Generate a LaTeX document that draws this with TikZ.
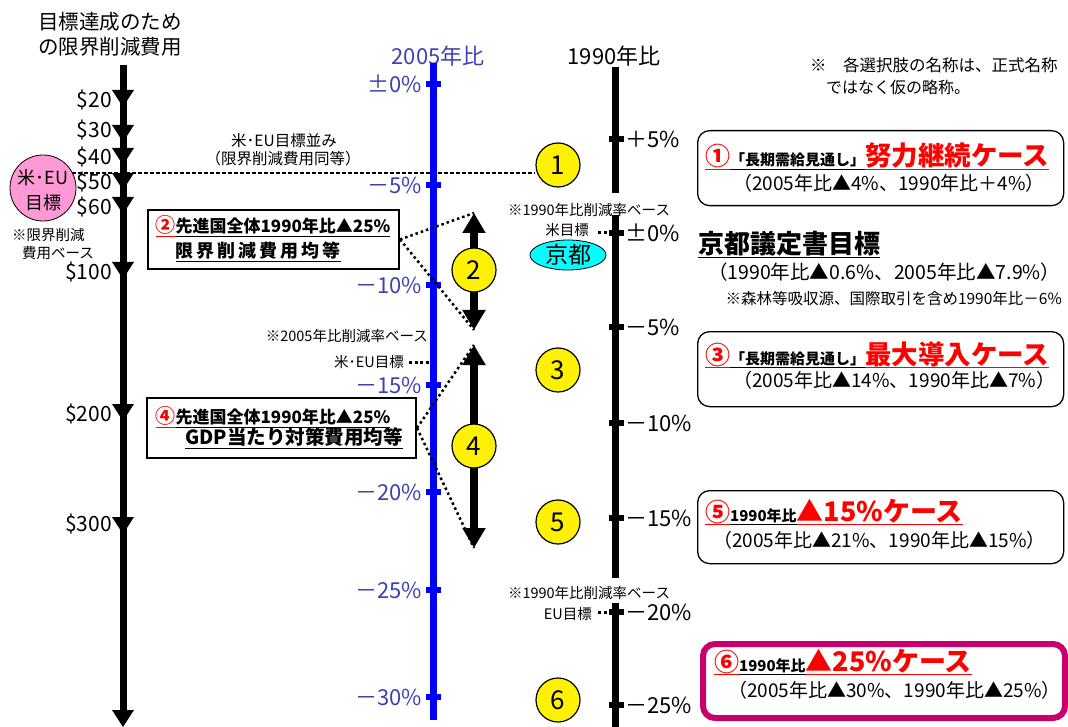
\documentclass[tikz,border=0pt]{standalone}
\usepackage{fontspec}
\setmainfont{Noto Sans CJK JP}
\usetikzlibrary{arrows.meta,shapes.geometric}
\definecolor{axisblue}{RGB}{0,0,255}
\definecolor{labblue}{RGB}{64,64,176}
\definecolor{pinkc}{RGB}{255,153,214}
\definecolor{magb}{RGB}{200,0,110}
\definecolor{cyanc}{RGB}{0,255,255}
\newcommand\fsz[1]{\fontsize{#1}{#1}\selectfont}
\newcommand\ulx[1]{\underline{\raisebox{0pt}[\height][2pt]{#1}}}
\begin{document}
\begin{tikzpicture}[x=1pt,y=-1pt,
 every node/.style={inner sep=0pt},
 numc/.style={circle, draw, fill=yellow, line width=1.2pt, minimum size=44pt, font=\fsz{26}},
 dollar/.style={anchor=east, font=\fsz{21}},
 bl/.style={anchor=east, font=\fsz{22}, text=labblue},
 rl/.style={anchor=west, font=\fsz{22}},
 dotl/.style={line width=2.5pt, dash pattern=on 2.5pt off 3pt},
 shortdots/.style={line width=3pt, dash pattern=on 3pt off 2.5pt},
 hdash/.style={line width=2pt, dash pattern=on 3.5pt off 2.5pt},
 rbox/.style={draw, rounded corners=12pt, line width=1.3pt, minimum width=366pt, minimum height=75pt, anchor=north west},
 sqbox/.style={draw, line width=2pt, anchor=north west},
 note/.style={font=\fsz{14.5}},
 bigarrow/.style={line width=8pt},
 tri/.style={fill=black},
]
\useasboundingbox (0,0) rectangle (1068,727);
% ---------- left cost axis ----------
\node[font=\fsz{20.5}] (title1) at (110,22) {目標達成のため};
\node[font=\fsz{20.5}] (title2) at (110,47) {の限界削減費用};
\draw[line width=7pt] (123,65) -- (123,712);
\foreach \y in {90,125,148,173,197,262,404,517,710}
  \fill[tri] (112,\y) -- (134,\y) -- (123,\y+17) -- cycle;
\node[dollar] (d20) at (112,100) {\$20};
\node[dollar] (d30) at (112,130) {\$30};
\node[dollar] (d40) at (112,157) {\$40};
\node[dollar] (d50) at (112,182) {\$50};
\node[dollar] (d60) at (112,207) {\$60};
\node[dollar] (d100) at (112,272) {\$100};
\node[dollar] (d200) at (112,414) {\$200};
\node[dollar] (d300) at (112,524) {\$300};
\node[circle, draw, fill=pinkc, minimum size=66pt, line width=0.8pt] (pink) at (43,188) {};
\node[font=\fsz{18}] (pinkt1) at (43,178) {米･EU};
\node[font=\fsz{18}] (pinkt2) at (43,203) {目標};
\node[note, anchor=west] (pn1) at (12,235) {※限界削減};
\node[note, anchor=west] (pn2) at (22,253) {費用ベース};
\node[font=\fsz{15.5}] (eq1) at (284,141) {米･EU目標並み};
\node[font=\fsz{15.5}] (eq2) at (283,159) {（限界削減費用同等）};
% ---------- circles / arrows ----------
\node[numc] (c1) at (558,165) {1};
\coordinate (hs) at (72,173);
\draw[hdash] (hs) -- (hs -| c1.west);
% ---------- 2005 axis ----------
\node[font=\fsz{22}, text=labblue] (h2005) at (438,56) {2005年比};
\draw[axisblue, line width=7pt] (433,63) -- (433,720);
\foreach \y/\t in {84/±0\%,185/－5\%,285/－10\%,385/－15\%,492/－20\%,590/－25\%,697/－30\%}{
  \draw[axisblue, line width=6pt] (426,\y) -- (441,\y);
  \node[bl] at (422,\y) {\t};
}
% ---------- 1990 axis ----------
\node[font=\fsz{22}] (h1990) at (614,56) {1990年比};
\draw[line width=7pt] (615,67) -- (615,193);
\draw[line width=7pt] (615,215) -- (615,578);
\draw[line width=7pt] (615,603) -- (615,727);
\foreach \y/\t in {139/＋5\%,233/±0\%,327/－5\%,423/－10\%,518/－15\%,612/－20\%,705/－25\%}{
  \draw[line width=5.5pt] (609,\y) -- (624,\y);
  \node[rl] at (625,\y) {\t};
}
% ---------- arrows 2 and 4 ----------
\coordinate (a2t) at (474,213);
\coordinate (a2b) at (474,330);
\coordinate (a4t) at (474,345);
\coordinate (a4b) at (474,548);
\draw[bigarrow, {Triangle[width=22pt,length=20pt]}-{Triangle[width=22pt,length=20pt]}] (a2t) -- (a2b);
\draw[bigarrow, {Triangle[width=22pt,length=20pt]}-{Triangle[width=22pt,length=20pt]}] (a4t) -- (a4b);
\node[numc] (c2) at (474,270) {2};
\node[numc] (c3) at (558,370) {3};
\node[numc] (c4) at (474,446) {4};
\node[numc] (c5) at (558,522) {5};
\node[numc] (c6) at (558,700) {6};
% ---------- boxes 2 and 4 ----------
\node[sqbox, minimum width=251pt, minimum height=59pt] (b2) at (147,209) {};
\node[font=\fsz{17}] (b2l1) at (273,226) {{\color{red}\ulx{\bfseries\fsz{20}②}}\ulx{\bfseries 先進国全体1990年比▲25\%}};
\node[font=\bfseries\fsz{18}] (b2l2) at (258,252) {\ulx{限\,界\,削\,減\,費\,用\,均\,等}};
\node[sqbox, minimum width=269pt, minimum height=60pt] (b4) at (146,397) {};
\node[font=\fsz{17}] (b4l1) at (273,417) {{\color{red}\ulx{\bfseries\fsz{20}④}}\ulx{\bfseries 先進国全体1990年比▲25\%}};
\node[font=\bfseries\fsz{19.5}] (b4l2) at (294,438) {\ulx{GDP当たり対策費用均等}};
\draw[dotl] (b2.east) -- (a2t);
\draw[dotl] (b2.east) -- (a2b);
\draw[dotl] (b4.east) -- (a4t);
\draw[dotl] (b4.east) -- (a4b);
% ---------- notes near axes ----------
\node[note, anchor=east] (n2005) at (428,336) {※2005年比削減率ベース};
\node[note, anchor=east] (useu) at (404,362) {米･EU目標};
\coordinate (useuend) at (430,362);
\draw[shortdots] ([xshift=5pt]useu.east) -- (useuend);
\node[note] (n1990a) at (589,210) {※1990年比削減率ベース};
\node[note, anchor=east] (usgoal) at (589,230) {米目標};
\coordinate (usend) at (613,233);
\draw[shortdots] (usend -| usgoal.east) ++(9,0) -- (usend);
\node[ellipse, draw, fill=cyanc, minimum width=76pt, minimum height=30pt, font=\fsz{23}, line width=0.8pt] (kyoto) at (568,255) {京都};
\node[note] (n1990b) at (589,593) {※1990年比削減率ベース};
\node[note, anchor=east] (eugoal) at (592,614) {EU目標};
\coordinate (euend) at (613,612);
\draw[shortdots] (euend -| eugoal.east) ++(6,0) -- (euend);
% ---------- right side ----------
\node[anchor=west, font=\fsz{16.5}] (tn1) at (810,65) {※\quad 各選択肢の名称は、正式名称};
\node[anchor=west, font=\fsz{16}] (tn2) at (826,87) {ではなく仮の略称。};
\node[rbox] (r1) at (697,130) {};
\node[anchor=base west] (r1l1) at (705,166) {{\color{red}\ulx{\bfseries\fsz{25}①}}\ulx{\bfseries\fsz{15}「長期需給見通し」}{\color{red}\ulx{\bfseries\fsz{26.5}努力継続ケース}}};
\node[anchor=west, font=\fsz{19}] (r1l2) at (733,183) {（2005年比▲4\%、1990年比＋4\%）};
\node[anchor=base west, font=\bfseries\fsz{26}] (kt) at (698,254) {\ulx{京都議定書目標}};
\node[anchor=west, font=\fsz{19.5}] (kt2) at (708,272) {（1990年比▲0.6\%、2005年比▲7.9\%）};
\node[anchor=east, font=\fsz{15.5}] (kt3) at (1062,299) {※森林等吸収源、国際取引を含め1990年比－6\%};
\node[rbox] (r3) at (697,331) {};
\node[anchor=base west] (r3l1) at (705,364) {{\color{red}\ulx{\bfseries\fsz{25}③}}\ulx{\bfseries\fsz{15}「長期需給見通し」}{\color{red}\ulx{\bfseries\fsz{26.5}最大導入ケース}}};
\node[anchor=west, font=\fsz{19}] (r3l2) at (733,380) {（2005年比▲14\%、1990年比▲7\%）};
\node[rbox, minimum height=73pt] (r5) at (697,490) {};
\node[anchor=base west] (r5l1) at (705,521) {{\color{red}\ulx{\bfseries\fsz{25}⑤}}\ulx{\bfseries\fsz{15}1990年比}{\color{red}\ulx{\bfseries\fsz{27}▲15\%ケース}}};
\node[anchor=west, font=\fsz{19}] (r5l2) at (713,540) {（2005年比▲21\%、1990年比▲15\%）};
\node[rbox, draw=magb, line width=6pt, minimum width=362pt, minimum height=74pt] (r6) at (700,641) {};
\node[anchor=base west] (r6l1) at (714,671) {{\color{red}\ulx{\bfseries\fsz{25}⑥}}\ulx{\bfseries\fsz{15}1990年比}{\color{red}\ulx{\bfseries\fsz{27}▲25\%ケース}}};
\node[anchor=west, font=\fsz{19}] (r6l2) at (728,690) {（2005年比▲30\%、1990年比▲25\%）};
\end{tikzpicture}
\end{document}
